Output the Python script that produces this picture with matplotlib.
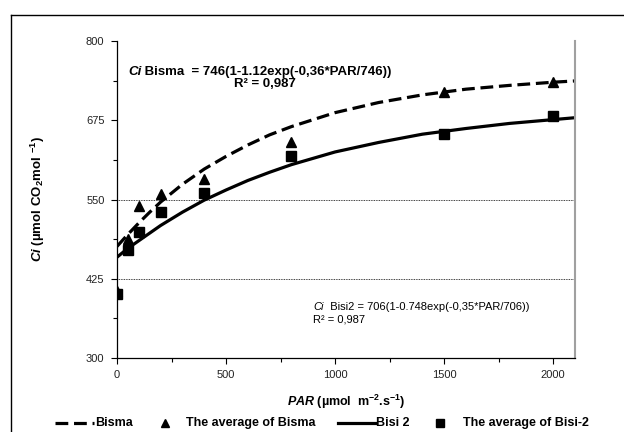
import matplotlib
matplotlib.use("Agg")
import matplotlib.pyplot as plt
from matplotlib.lines import Line2D
from matplotlib.ticker import FixedLocator

plt.rcParams['font.family'] = ['Liberation Sans', 'DejaVu Sans']
plt.rcParams['mathtext.fontset'] = 'custom'
plt.rcParams['mathtext.rm'] = 'Liberation Sans:bold'
plt.rcParams['mathtext.bf'] = 'Liberation Sans:bold'
plt.rcParams['mathtext.it'] = 'Liberation Sans:italic:bold'

# ---- data ----
par_obs = [0, 50, 100, 200, 400, 800, 1500, 2000]
bisma_avg = [406, 488, 539, 558, 582, 641, 720, 735]
bisi2_avg = [401, 470, 498, 530, 560, 619, 653, 682]

par_fit = [0, 50, 100, 150, 200, 300, 400, 500, 600, 700, 800, 1000,
           1200, 1400, 1600, 1800, 2000, 2100]
bisma_fit = [476, 495, 513, 530, 546, 574, 598, 618, 636, 652, 665, 687,
             703, 715, 724, 730, 735, 737]
bisi2_fit = [459, 473, 485, 497, 509, 530, 549, 565, 580, 593, 605, 625,
             640, 653, 662, 670, 676, 679]

y_ticks = [300, 425, 550, 675, 800]
y_minor = [362.5, 487.5, 612.5, 737.5]
x_ticks = [0, 500, 1000, 1500, 2000]
x_minor = [250, 750, 1250, 1750]
grid_levels = [425, 550]
eq_bisma = " Bisma  = 746(1-1.12exp(-0,36*PAR/746))"
eq_bisi2 = "  Bisi2 = 706(1-0.748exp(-0,35*PAR/706))"
r2_text = "R\u00b2 = 0,987"

W, H = 624, 432
fig = plt.figure(figsize=(W / 100, H / 100), dpi=100)
ax = fig.add_axes([117 / W, 1 - 358 / H, (575 - 117) / W, (358 - 41) / H])

def fx(px):
    return px / W

def fy(py):
    return 1 - py / H

for g in grid_levels:
    ax.axhline(g, color='black', lw=0.6, ls=(0, (1, 1)), zorder=1)

ax.plot(par_fit, bisma_fit, color='black', lw=2.3, ls=(0, (4, 1.8)), zorder=2)
ax.plot(par_fit, bisi2_fit, color='black', lw=2.3, ls='-', zorder=2)
ax.plot(par_obs, bisma_avg, ls='none', marker='^', ms=7.5, color='black', zorder=3)
ax.plot(par_obs, bisi2_avg, ls='none', marker='s', ms=6.5, color='black', zorder=4)

ax.set_xlim(0, 2100)
ax.set_ylim(300, 800)
ax.xaxis.set_major_locator(FixedLocator(x_ticks))
ax.xaxis.set_minor_locator(FixedLocator(x_minor))
ax.yaxis.set_major_locator(FixedLocator(y_ticks))
ax.yaxis.set_minor_locator(FixedLocator(y_minor))
ax.tick_params(which='major', length=4, width=0.8, labelsize=8, pad=5,
               labelcolor='#222222')
ax.tick_params(which='minor', length=3, width=0.8)
ax.tick_params(axis='x', which='major', pad=5)

ax.spines['top'].set_visible(False)
ax.spines['right'].set_color('#a0a0a0')
ax.spines['right'].set_linewidth(1.5)
for s in ('left', 'bottom'):
    ax.spines[s].set_linewidth(0.9)

ax.set_ylabel(r"$\mathit{Ci}$ (µmol CO$_2$mol $^{-1}$)", fontsize=9.5,
              fontweight='bold', labelpad=28)
ax.set_xlabel(r"$\mathit{PAR}$ (µmol  m$^{-2}$.s$^{-1}$)", fontsize=9,
              fontweight='bold', labelpad=9)

# upper equation
t1 = fig.text(fx(128), fy(72), "Ci", fontsize=9.5, fontweight='bold',
              style='italic', va='center', ha='left')
ax.annotate(eq_bisma, xy=(1, 0), xycoords=t1, va='bottom', ha='left',
            fontsize=9.5, fontweight='bold')
fig.text(fx(265), fy(84), r2_text, fontsize=9.5, fontweight='bold',
         va='center', ha='center')

# lower equation
t2 = fig.text(fx(313), fy(307), "Ci", fontsize=8, style='italic',
              va='center', ha='left')
ax.annotate(eq_bisi2, xy=(1, 0), xycoords=t2, va='bottom', ha='left',
            fontsize=8)
fig.text(fx(313), fy(320), r2_text, fontsize=8, va='center', ha='left')

# legend (manual)
ly = fy(423)
lfs = 9
fig.add_artist(Line2D([fx(55), fx(94)], [ly, ly], color='black', lw=2.3,
                      ls=(0, (4, 1.8)), transform=fig.transFigure))
fig.text(fx(95), ly, "Bisma", fontsize=lfs, fontweight='bold', va='center')
fig.add_artist(Line2D([fx(165)], [ly], marker='^', ms=6, color='black',
                      ls='none', transform=fig.transFigure))
fig.text(fx(186), ly, "The average of Bisma", fontsize=lfs, fontweight='bold',
         va='center')
fig.add_artist(Line2D([fx(338), fx(375)], [ly, ly], color='black', lw=2.3,
                      transform=fig.transFigure))
fig.text(fx(376), ly, "Bisi 2", fontsize=lfs, fontweight='bold', va='center')
fig.add_artist(Line2D([fx(440)], [ly], marker='s', ms=5.5, color='black',
                      ls='none', transform=fig.transFigure))
fig.text(fx(463), ly, "The average of Bisi-2", fontsize=lfs, fontweight='bold',
         va='center')

# outer frame
fig.add_artist(Line2D([fx(11), 1], [fy(15), fy(15)], color='black', lw=1,
                      transform=fig.transFigure))
fig.add_artist(Line2D([fx(11), fx(11)], [fy(15), 0], color='black', lw=1,
                      transform=fig.transFigure))

fig.savefig("out.png", dpi=100)
